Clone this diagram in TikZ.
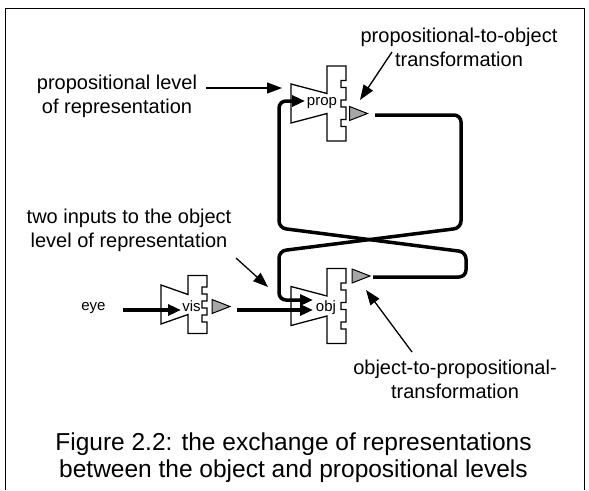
\documentclass[tikz,border=0pt]{standalone}
\usepackage{fontspec}
\setmainfont{Liberation Sans}
\usetikzlibrary{arrows.meta}
\definecolor{outgray}{gray}{0.65}
\tikzset{
  pics/gate/.style n args={3}{code={
    \draw[gate line] (-9.5-#2,-19.5) -- (-9.5,-10) -- (-9.5,-#1) -- (9.5,-#1)
      \foreach \s in {-#3,0,#3} {-- (9.5,\s-3.5) -- (4.5,\s-3.5) -- (4.5,\s+3.5) -- (9.5,\s+3.5)}
      -- (9.5,#1) -- (-9.5,#1) -- (-9.5,10) -- (-9.5-#2,19.5) -- cycle;
  }},
  pics/outtri/.style={code={
    \draw[fill=outgray,line width=1pt,line join=miter] (0,-7) -- (18,0) -- (0,7) -- cycle;
  }}
}
\begin{document}
\begin{tikzpicture}[x=1pt,y=-1pt,
    gate line/.style={line width=1.3pt,fill=white,line join=miter},
    wire/.style={line width=3.5pt,rounded corners=7pt},
    feed/.style={wire,-{Triangle[length=13pt,width=11pt]}},
    pointer/.style={line width=1.3pt,-{Triangle[length=15pt,width=11pt]}},
    lbl/.style={font=\fontsize{20}{24}\selectfont,align=center,inner sep=0pt},
    tag/.style={font=\fontsize{15}{18}\selectfont,inner sep=0pt}]
  \useasboundingbox (0,0) rectangle (589,490);
  %% frame
  \draw[line width=0.8pt] (5,490) -- (5,8) -- (584,8) -- (584,490);
  %% gates
  \pic at (336.5,103.5) {gate={37.5}{36}{19.5}};
  \pic at (336.5,306) {gate={37.5}{36}{19.5}};
  \pic at (197.5,304.5) {gate={29}{27}{14}};
  \pic at (349.5,113.5) {outtri};
  \pic at (352,276) {outtri};
  \pic at (212,306.5) {outtri};
  \node[tag] (prop) at (322,103) {prop};
  \node[tag] (obj) at (326,308) {obj};
  \node[tag] (vis) at (191.5,306.5) {vis};
  \node[tag] (eye) at (93.5,308) {eye};
  %% wire ends
  \coordinate (propout) at (375,115);
  \coordinate (objout) at (373,277);
  \coordinate (visout) at (237,310);
  \coordinate (eyeout) at (123,310);
  \coordinate (propin) at (305,101);
  \coordinate (objin) at (313,300);
  \coordinate (objfeed) at (313,310);
  \coordinate (visin) at (181,310);
  %% wires
  \draw[feed] (propout) -- (461,115) -- (461,228) -- (279,251) -- (279,300) -- (objin);
  \draw[feed] (objout) -- (466,277) -- (466,252) -- (279,228) -- (279,101) -- (propin);
  \draw[feed] (visout) -- (objfeed);
  \draw[feed] (eyeout) -- (visin);
  %% labels
  \node[lbl] (p2olbl) at (459,47.5) {propositional-to-object\\transformation};
  \node[lbl] (plvllbl) at (117,96) {propositional level\\of representation};
  \node[lbl] (twolbl) at (129,230.5) {two inputs to the object\\level of representation};
  \node[lbl] (o2plbl) at (455,379) {object-to-propositional-\\transformation};
  \node[font=\fontsize{24.5}{27}\selectfont,align=center,inner sep=0pt] (caption) at (293.5,458)
    {Figure 2.2: the exchange of representations\\between the object and propositional levels};
  \coordinate (plvlfrom) at (206,88);
  \coordinate (plvlto) at (282,88);
  \coordinate (p2ofrom) at (392,52);
  \coordinate (p2oto) at (360,100);
  \coordinate (twofrom) at (236,258);
  \coordinate (twoto) at (268,287);
  \coordinate (o2pfrom) at (412,352);
  \coordinate (o2pto) at (366,290);
  \draw[pointer] (plvlfrom) -- (plvlto);
  \draw[pointer] (p2ofrom) -- (p2oto);
  \draw[pointer] (twofrom) -- (twoto);
  \draw[pointer] (o2pfrom) -- (o2pto);
\end{tikzpicture}
\end{document}
